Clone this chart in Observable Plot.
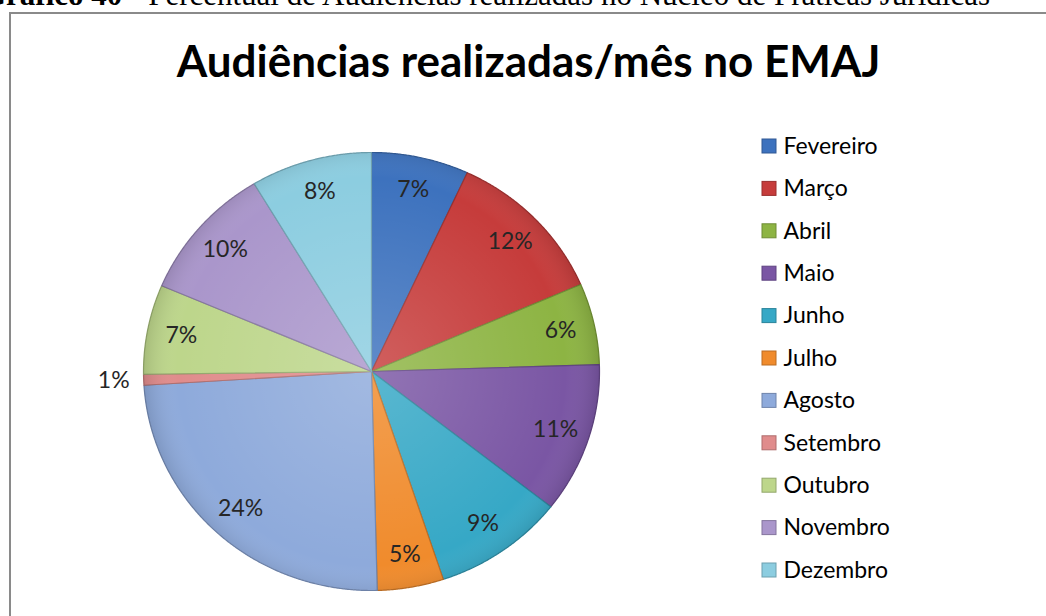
<!DOCTYPE html>
<html>
<head>
<meta charset="utf-8">
<script src="https://cdn.jsdelivr.net/npm/d3@7"></script>
<script src="https://cdn.jsdelivr.net/npm/@observablehq/plot@0.6"></script>
<style>
  html, body { margin: 0; padding: 0; background: #fff; width: 1046px; height: 616px; overflow: hidden; }
  #wrap { position: relative; width: 1046px; height: 616px; overflow: hidden; }
  #caption { position: absolute; left: -18px; top: -21px; font-family: "Liberation Serif", "Times New Roman", serif; font-size: 31px; line-height: 31px; white-space: nowrap; color: #000; }
  #frame { position: absolute; left: 9px; top: 12px; width: 1100px; height: 700px; border-left: 2px solid #8a8a8a; border-top: 2px solid #8a8a8a; }
  #chart { position: absolute; left: 0; top: 0; }
</style>
</head>
<body>
<div id="wrap">
  <div id="frame"></div>
  <div id="caption"><b>Gráfico 40</b> - Percentual de Audiências realizadas no Núcleo de Práticas Jurídicas</div>
  <div id="chart"></div>
</div>
<script>
// ---- data ----
const months = ["Fevereiro", "Março", "Abril", "Maio", "Junho", "Julho", "Agosto", "Setembro", "Outubro", "Novembro", "Dezembro"];
const shares = [6.9, 11.6, 6.0, 11.1, 9.3, 4.7, 24.4, 0.8, 6.6, 10.0, 8.6];
const pctLabels = ["7%", "12%", "6%", "11%", "9%", "5%", "24%", "1%", "7%", "10%", "8%"];
const colors = ["#3d72be", "#c63c3b", "#8db443", "#7a56a4", "#36a8c6", "#f08b2c", "#8eaadb", "#e08c8c", "#bdd68b", "#aa96cb", "#8ccde0"];
const titleText = "Audiências realizadas/mês no EMAJ";

// ---- layout ----
const W = 1046, H = 616;
const cx = 371, cy = 371, Rx = 228, Ry = 219;
const labelK = 0.85;
const legX = 762, legSq = 14, legY0 = 146, legStep = 42.4;
const font = "Lato, 'Open Sans', sans-serif";

const pie = d3.pie().sort(null).value(d => d.share);
const table = months.map((m, i) => ({month: m, share: shares[i], label: pctLabels[i], color: colors[i]}));
const arcs = pie(table);

const polyPts = [];
arcs.forEach(a => {
  const n = Math.max(4, Math.ceil((a.endAngle - a.startAngle) / 0.005));
  polyPts.push({month: a.data.month, x: cx, y: cy});
  for (let k = 0; k <= n; k++) {
    const t = a.startAngle + (a.endAngle - a.startAngle) * k / n;
    polyPts.push({month: a.data.month, x: cx + Rx * Math.sin(t), y: cy - Ry * Math.cos(t)});
  }
  polyPts.push({month: a.data.month, x: cx, y: cy});
});

const labels = arcs.map(a => {
  const mid = (a.startAngle + a.endAngle) / 2;
  const small = a.data.share < 2;
  const x = small ? cx + (Rx + 30) * Math.sin(mid) : cx + labelK * Rx * Math.sin(mid);
  const y = small ? cy - (Ry + 30) * Math.cos(mid) : cy - labelK * Ry * Math.cos(mid);
  return {text: a.data.label, x, y, small};
});

const legend = months.map((m, i) => ({month: m, y: legY0 + i * legStep}));

const strokeOf = m => d3.color(colors[months.indexOf(m)]).darker(0.7).formatHex();

const plot = Plot.plot({
  width: W, height: H, margin: 0,
  x: {domain: [0, W], range: [0, W], axis: null},
  y: {domain: [0, H], range: [0, H], axis: null},
  color: {domain: months, range: colors},
  style: {background: "transparent", overflow: "visible"},
  marks: [
    Plot.line(polyPts, {x: "x", y: "y", z: "month", fill: "month", stroke: d => strokeOf(d.month), strokeWidth: 1.2, curve: "linear"}),
    Plot.line(polyPts, {x: "x", y: "y", z: "month", fill: "url(#sheen)", stroke: "none", curve: "linear"}),
    Plot.text(labels, {x: "x", y: "y", text: "text", textAnchor: d => d.small ? "end" : "middle", fontSize: 23, fill: "#262626", fontFamily: font}),
    Plot.text([titleText], {x: 528, y: 76, text: d => d, fontSize: 44, fontWeight: "bold", fill: "#000", lineAnchor: "bottom", fontFamily: font}),
    Plot.rect(legend, {x1: legX, x2: legX + legSq, y1: d => d.y - legSq / 2, y2: d => d.y + legSq / 2, fill: "month", stroke: d => strokeOf(d.month), strokeWidth: 1}),
    Plot.text(legend, {x: legX + legSq + 7, y: "y", text: "month", textAnchor: "start", fontSize: 23, fill: "#000", fontFamily: font})
  ]
});

// radial sheen gradient for a soft 3D look
const ns = "http://www.w3.org/2000/svg";
const defs = document.createElementNS(ns, "defs");
defs.innerHTML = `<radialGradient id="sheen" gradientUnits="userSpaceOnUse" cx="${cx}" cy="${cy}" r="${Rx}">
  <stop offset="0" stop-color="#ffffff" stop-opacity="0.18"/>
  <stop offset="0.85" stop-color="#ffffff" stop-opacity="0.0"/>
  <stop offset="1" stop-color="#000000" stop-opacity="0.12"/>
</radialGradient>`;
plot.insertBefore(defs, plot.firstChild);
document.getElementById("chart").appendChild(plot);
</script>
</body>
</html>
